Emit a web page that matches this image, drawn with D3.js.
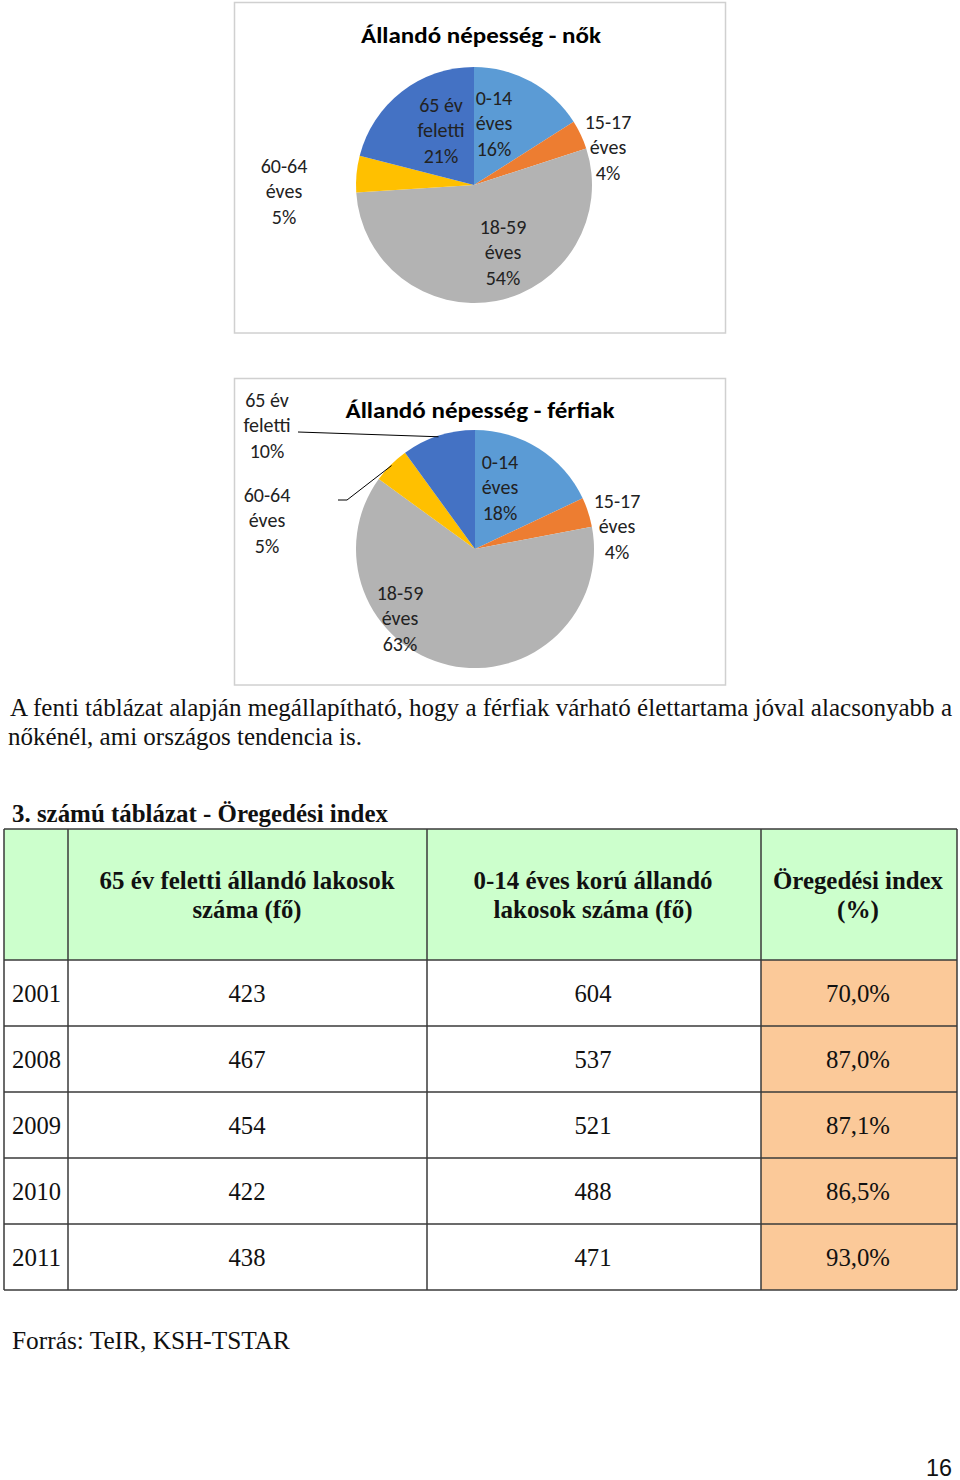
<!DOCTYPE html>
<html><head><meta charset="utf-8">
<script src="https://cdn.jsdelivr.net/npm/d3@7"></script>
<style>body{margin:0;background:#fff}svg{display:block}</style>
</head><body>
<script>
// ---- data ----
const ageGroups = ["0-14", "15-17", "18-59", "60-64", "65 év"];
const ageSuffix = ["éves", "éves", "éves", "éves", "feletti"];
const womenShare = [16, 4, 54, 5, 21];
const menShare = [18, 4, 63, 5, 10];
const pieColors = ["#5b9bd5", "#ed7d31", "#b3b3b3", "#ffc000", "#4472c4"];

const years = ["2001", "2008", "2009", "2010", "2011"];
const over65 = [423, 467, 454, 422, 438];
const under14 = [604, 537, 521, 488, 471];
const agingIndex = [70.0, 87.0, 87.1, 86.5, 93.0];
const headerCols = [["65 év feletti állandó lakosok", "száma (fő)"], ["0-14 éves korú állandó", "lakosok száma (fő)"], ["Öregedési index", "(%)"]];

// ---- layout ----
const W = 960, H = 1480;
const svg = d3.select("body").append("svg").attr("width", W).attr("height", H);
const sans = "Carlito, Calibri, Lato, sans-serif";
const serif = "'Liberation Serif', 'Times New Roman', serif";

const charts = [
  { title: "Állandó népesség - nők", values: womenShare, frame: [234.5, 2.5, 491, 330.5], titleXY: [481, 35], titleW: 240,
    cx: 474, cy: 185, r: 118,
    labels: [[494, 123], [608, 147], [503, 252], [284, 191], [441, 130]], leaders: [] },
  { title: "Állandó népesség - férfiak", values: menShare, frame: [234.5, 378.5, 491, 306.5], titleXY: [480, 410], titleW: 269,
    cx: 475, cy: 549, r: 119,
    labels: [[500, 487], [617, 526], [400, 618], [267, 520], [267, 425]],
    leaders: [[4, [[298, 432]]], [3, [[338, 500], [347, 500]]]] }
];

charts.forEach(c => {
  const g = svg.append("g");
  g.append("rect").attr("x", c.frame[0]).attr("y", c.frame[1]).attr("width", c.frame[2]).attr("height", c.frame[3])
    .attr("fill", "#fff").attr("stroke", "#d0d0d0").attr("stroke-width", 1.5);
  g.append("text").attr("x", c.titleXY[0]).attr("y", c.titleXY[1]).attr("dy", "0.35em")
    .attr("text-anchor", "middle").attr("font-family", sans).attr("font-weight", 700).attr("font-size", 22)
    .attr("textLength", c.titleW).attr("lengthAdjust", "spacingAndGlyphs")
    .attr("fill", "#000").text(c.title);
  const data = c.values.map((v, i) => ({ v, i }));
  const arcs = d3.pie().sort(null).value(d => d.v)(data);
  const arc = d3.arc().innerRadius(0).outerRadius(c.r);
  const pg = g.append("g").attr("transform", `translate(${c.cx},${c.cy})`);
  pg.selectAll("path").data(arcs).join("path").attr("d", arc).attr("fill", d => pieColors[d.data.i]);
  // leader lines
  c.leaders.forEach(([idx, pts]) => {
    const a = arcs[idx];
    const mid = (a.startAngle + a.endAngle) / 2;
    const ex = c.cx + Math.sin(mid) * (c.r - 1), ey = c.cy - Math.cos(mid) * (c.r - 1);
    g.append("polyline").attr("points", pts.concat([[ex, ey]]).map(p => p.join(",")).join(" "))
      .attr("fill", "none").attr("stroke", "#000").attr("stroke-width", 1);
  });
  // labels
  arcs.forEach((a, k) => {
    const [lx, ly] = c.labels[k];
    const lines = [ageGroups[a.data.i], ageSuffix[a.data.i], Math.round(a.data.v) + "%"];
    const t = g.append("text").attr("text-anchor", "middle").attr("font-family", sans).attr("font-size", 20).attr("fill", "#222");
    lines.forEach((s, j) => t.append("tspan").attr("x", lx).attr("y", ly + (j - 1) * 25.5).attr("dy", "0.35em").text(s));
  });
});

// ---- paragraph ----
function stext(x, y, s, w, opts = {}) {
  const t = svg.append("text").attr("x", x).attr("y", y).attr("font-family", serif)
    .attr("font-size", opts.size || 25).attr("font-weight", opts.bold ? 700 : 400)
    .attr("fill", "#111").attr("text-anchor", opts.anchor || "start").text(s);
  if (w) t.attr("textLength", w).attr("lengthAdjust", "spacingAndGlyphs");
  return t;
}
stext(10, 716, "A fenti táblázat alapján megállapítható, hogy a férfiak várható élettartama jóval alacsonyabb a", 942);
stext(8, 745, "nőkénél, ami országos tendencia is.", 354);
stext(12, 822, "3. számú táblázat - Öregedési index", 376, { bold: true });

// ---- table ----
const colX = [4, 68, 427, 761, 957];
const headTop = 829, headBot = 960, rowH = 66;
const yRow = d3.scaleBand().domain(years).range([headBot, headBot + rowH * years.length]);
const tg = svg.append("g");
tg.append("rect").attr("x", colX[0]).attr("y", headTop).attr("width", colX[4] - colX[0]).attr("height", headBot - headTop).attr("fill", "#ccffcc");
tg.selectAll("rect.idx").data(years).join("rect").attr("class", "idx")
  .attr("x", colX[3]).attr("y", d => yRow(d)).attr("width", colX[4] - colX[3]).attr("height", yRow.bandwidth()).attr("fill", "#fbc999");
// grid lines
const hLines = [headTop, headBot].concat(years.map(y => yRow(y) + yRow.bandwidth()));
tg.selectAll("line.h").data(hLines).join("line").attr("class", "h")
  .attr("x1", colX[0]).attr("x2", colX[4]).attr("y1", d => d).attr("y2", d => d)
  .attr("stroke", "#3a3a3a").attr("stroke-width", 1.5);
tg.selectAll("line.v").data(colX).join("line").attr("class", "v")
  .attr("x1", d => d).attr("x2", d => d).attr("y1", headTop).attr("y2", hLines[hLines.length - 1])
  .attr("stroke", "#3a3a3a").attr("stroke-width", 1.5);

const headW = [[295, 109], [239, 199], [170, 42]];
const colC = [247, 593, 858];
headerCols.forEach((lines, i) => {
  lines.forEach((s, j) => stext(colC[i], 889 + j * 29, s, headW[i][j], { bold: true, anchor: "middle" }));
});
const fmt = v => v.toFixed(1).replace(".", ",") + "%";
years.forEach((y, k) => {
  const by = yRow(y) + 42;
  stext(12, by, y, 49);
  stext(colC[0], by, String(over65[k]), 37, { anchor: "middle" });
  stext(colC[1], by, String(under14[k]), 37, { anchor: "middle" });
  stext(colC[2], by, fmt(agingIndex[k]), 64, { anchor: "middle" });
});

stext(12, 1349, "Forrás: TeIR, KSH-TSTAR", 278);
svg.append("text").attr("x", 952).attr("y", 1476).attr("text-anchor", "end")
  .attr("font-family", "'Liberation Sans', Arial, sans-serif").attr("font-size", 23)
  .attr("textLength", 26).attr("lengthAdjust", "spacingAndGlyphs").attr("fill", "#111").text("16");
</script>
</body></html>
